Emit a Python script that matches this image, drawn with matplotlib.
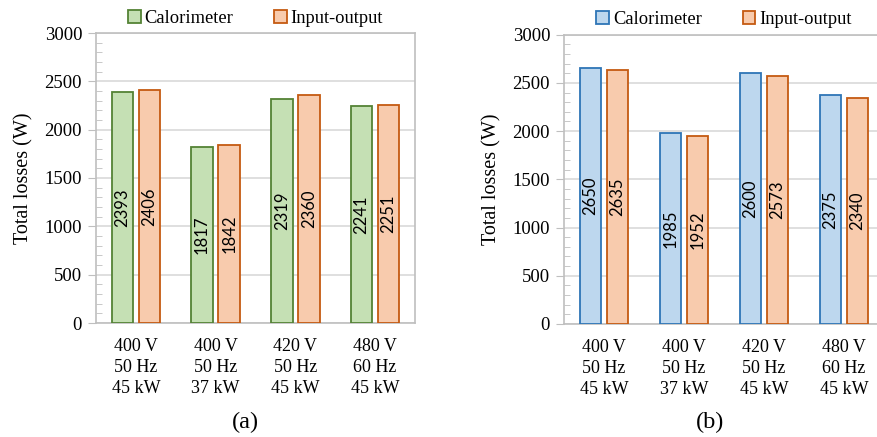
import matplotlib
matplotlib.use("Agg")
import matplotlib.pyplot as plt
from matplotlib.patches import Patch
from matplotlib.ticker import MultipleLocator

# categories shared by both panels
categories = ["400 V\n50 Hz\n45 kW", "400 V\n50 Hz\n37 kW",
              "420 V\n50 Hz\n45 kW", "480 V\n60 Hz\n45 kW"]
series_names = ["Calorimeter", "Input-output"]

# panel (a)
calorimeter_a = [2393, 1817, 2319, 2241]
input_output_a = [2406, 1842, 2360, 2251]

# panel (b)
calorimeter_b = [2650, 1985, 2600, 2375]
input_output_b = [2635, 1952, 2573, 2340]

SERIF = "Liberation Serif"
SANS = "Lato"
GRAY = "#BFBFBF"
GRID = "#D9D9D9"

W, H = 878, 437
fig = plt.figure(figsize=(W / 100, H / 100), dpi=100)


def px_axes(left, right, top, bottom):
    return fig.add_axes([left / W, (H - bottom) / H, (right - left) / W, (bottom - top) / H])


def draw_panel(ax, cal, io, cal_fill, cal_edge, io_fill, io_edge, tag, tag_x):
    x = list(range(len(categories)))
    bw = 0.27
    off = 0.17
    b1 = ax.bar([i - off for i in x], cal, bw, color=cal_fill, edgecolor=cal_edge, linewidth=1.3, zorder=3)
    b2 = ax.bar([i + off for i in x], io, bw, color=io_fill, edgecolor=io_edge, linewidth=1.3, zorder=3)
    for bars, vals in ((b1, cal), (b2, io)):
        for rect, v in zip(bars, vals):
            ax.text(rect.get_x() + rect.get_width() / 2, v / 2, str(v), rotation=90,
                    ha="center", va="center", fontsize=12, family=SANS, zorder=4)

    ax.set_xlim(-0.5, len(categories) - 0.5)
    ax.set_ylim(0, 3000)
    ax.yaxis.set_major_locator(MultipleLocator(500))
    ax.yaxis.set_minor_locator(MultipleLocator(100))
    ax.grid(axis="y", color=GRID, linewidth=1.2, zorder=0)
    ax.set_axisbelow(True)
    for s in ax.spines.values():
        s.set_color(GRAY)
        s.set_linewidth(1.2)
    ax.tick_params(axis="y", which="major", direction="out", length=6, color=GRAY,
                   labelsize=13.5, pad=4)
    ax.tick_params(axis="y", which="minor", direction="in", length=4, color=GRAY)
    ax.tick_params(axis="x", length=0, pad=11)
    ax.set_xticks(x)
    ax.set_xticklabels(categories, fontsize=13, family=SERIF, linespacing=1.3)
    for lab in ax.get_yticklabels():
        lab.set_family(SERIF)
    ax.set_ylabel("Total losses (W)", fontsize=14.5, family=SERIF, labelpad=8)

    handles = [Patch(facecolor=cal_fill, edgecolor=cal_edge, linewidth=1.3),
               Patch(facecolor=io_fill, edgecolor=io_edge, linewidth=1.3)]
    ax.legend(handles, series_names, loc="center", bbox_to_anchor=(0.5, 1 + 15 / 290),
              ncol=2, frameon=False, handlelength=0.7, handleheight=0.7,
              handletextpad=0.2, columnspacing=2.2, borderaxespad=0,
              prop={"family": SERIF, "size": 13.3})

    fig.text(tag_x / W, 1 - 422 / H, tag, ha="center", va="center", fontsize=17.5, family=SERIF)


ax_a = px_axes(96, 415, 33, 323)
draw_panel(ax_a, calorimeter_a, input_output_a, "#C5E0B4", "#548235", "#F8CBAD", "#C55A11", "(a)", 245)

ax_b = px_axes(564, 884, 34.7, 324)
draw_panel(ax_b, calorimeter_b, input_output_b, "#BDD7EE", "#2E75B6", "#F8CBAD", "#C55A11", "(b)", 710)

fig.savefig("out.png", dpi=100)
